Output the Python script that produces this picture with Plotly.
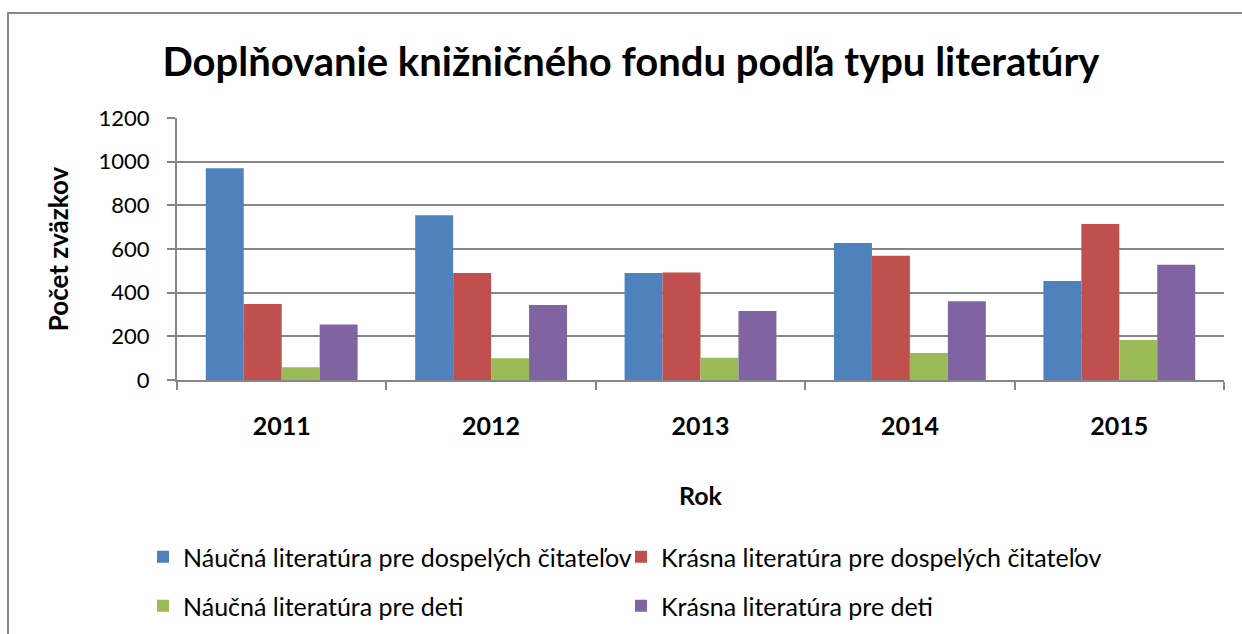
import plotly.graph_objects as go

years = ["2011", "2012", "2013", "2014", "2015"]
naucna_dosp = [970, 755, 490, 627, 454]
krasna_dosp = [348, 490, 492, 569, 715]
naucna_deti = [58, 100, 102, 124, 183]
krasna_deti = [254, 344, 316, 361, 528]

names = [
    "Náučná literatúra pre dospelých čitateľov",
    "Krásna literatúra pre dospelých čitateľov",
    "Náučná literatúra pre deti",
    "Krásna literatúra pre deti",
]
colors = ["#4F81BD", "#C0504D", "#9BBB59", "#8064A2"]
series = [naucna_dosp, krasna_dosp, naucna_deti, krasna_deti]
legend_ids = ["legend", "legend2", "legend3", "legend4"]

W, H = 1242, 634
L, R, T, B = 177, 18, 118, 254
pw, ph = W - L - R, H - T - B

def px_x(x):
    return (x - L) / pw

def px_y(y):
    return (H - B - y) / ph

FONT = "Lato"
fig = go.Figure()
for nm, col, vals, lg in zip(names, colors, series, legend_ids):
    fig.add_trace(go.Bar(x=years, y=vals, name=nm, marker_color=col, legend=lg,
                         marker_line_width=0))

leg_pos = [(143, 557), (621, 557), (143, 606), (621, 606)]
leg_layout = {}
for lg, (lx, ly) in zip(legend_ids, leg_pos):
    leg_layout[lg] = dict(x=px_x(lx), y=px_y(ly), xanchor="left", yanchor="middle",
                          orientation="h", bgcolor="rgba(0,0,0,0)",
                          font=dict(family=FONT, size=25, color="black"),
                          itemwidth=30, visible=True)

fig.update_layout(
    width=W, height=H,
    margin=dict(l=L, r=R, t=T, b=B, autoexpand=False),
    paper_bgcolor="white", plot_bgcolor="white",
    showlegend=True,
    barmode="group", bargap=0.275, bargroupgap=0,
    title=dict(text="<b>Doplňovanie knižničného fondu podľa typu literatúry</b>",
               x=0.508, xanchor="center", y=1 - 62 / H, yanchor="middle",
               font=dict(family=FONT, size=40, color="black")),
    font=dict(family=FONT, color="black"),
    **leg_layout,
)

fig.update_xaxes(
    type="category",
    showline=True, linecolor="#868686", linewidth=2,
    ticks="outside", tickson="boundaries", ticklen=8, tickcolor="#868686", tickwidth=2,
    tickfont=dict(family=FONT, size=25, color="black"),
    tickprefix="<b>", ticksuffix="</b>",
    ticklabelstandoff=23,
    title=dict(text="<b>Rok</b>", font=dict(family=FONT, size=25, color="black"), standoff=48),
    showgrid=False,
)
fig.update_yaxes(
    range=[0, 1200], dtick=200,
    showline=True, linecolor="#868686", linewidth=2,
    ticks="outside", ticklen=8, tickcolor="#868686", tickwidth=2,
    showgrid=True, gridcolor="#868686", gridwidth=2,
    tickfont=dict(family=FONT, size=22, color="black"),
    ticklabelstandoff=13,
    title=dict(text="<b>Počet zväzkov</b>", font=dict(family=FONT, size=26, color="black"), standoff=22),
    zeroline=False,
)

fig.add_shape(type="rect", xref="paper", yref="paper",
              x0=px_x(8), x1=px_x(1260), y0=px_y(700), y1=px_y(13),
              line=dict(color="#868686", width=2), fillcolor="rgba(0,0,0,0)", layer="below")

fig.write_html("out.html", config={"displayModeBar": False},
               post_script="document.body.style.margin='0';document.body.style.overflow='hidden';")
